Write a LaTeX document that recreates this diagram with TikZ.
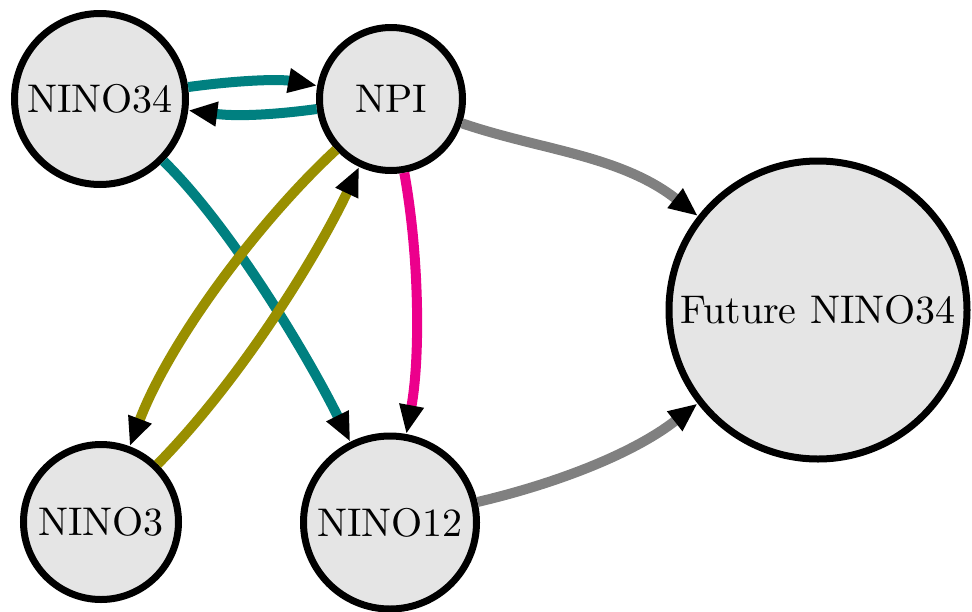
\documentclass[tikz,border=0pt]{standalone}
\usepackage{fontspec}
\setmainfont{lmroman10-regular.otf}
\usetikzlibrary{arrows.meta}
\definecolor{nodefill}{RGB}{229,229,229}
\definecolor{eteal}{RGB}{0,128,128}
\definecolor{eolive}{RGB}{153,143,0}
\definecolor{epink}{RGB}{236,0,140}
\definecolor{egray}{RGB}{128,128,128}
\begin{document}
\begin{tikzpicture}[x=1pt,y=-1pt,
  vnode/.style={circle,draw=black,line width=7pt,fill=nodefill,inner sep=0pt,
    font=\fontsize{40}{44}\selectfont},
  edge/.style={line width=10pt,-{Triangle[black,length=29pt,width=23pt]}}]
\useasboundingbox (0,0) rectangle (972,611);
\node[vnode,minimum size=171pt] (n34) at (100,99) {NINO34};
\node[vnode,minimum size=143pt] (npi) at (391,99) {NPI};
\node[vnode,minimum size=155pt] (n3) at (101,522) {NINO3};
\node[vnode,minimum size=173pt] (n12) at (390,522.5) {NINO12};
\node[vnode,minimum size=298pt] (fut) at (818,310) {Future NINO34};
% teal
\draw[edge,eteal] (n34) .. controls (240,80) and (280,79) .. (npi);
\draw[edge,eteal] (npi) .. controls (280,114) and (240,117) .. (n34);
\draw[edge,eteal] (n34) .. controls (232,228) and (310,360) .. (n12);
% olive
\draw[edge,eolive] (npi) .. controls (260,220) and (170,340) .. (n3);
\draw[edge,eolive] (n3) .. controls (245,375) and (320,250) .. (npi);
% pink
\draw[edge,epink] (npi) .. controls (420,260) and (420,360) .. (n12);
% gray
\draw[edge,egray] (npi) .. controls (540,150) and (620,155) .. (fut);
\draw[edge,egray] (n12) .. controls (550,485) and (630,456) .. (fut);
\end{tikzpicture}
\end{document}
